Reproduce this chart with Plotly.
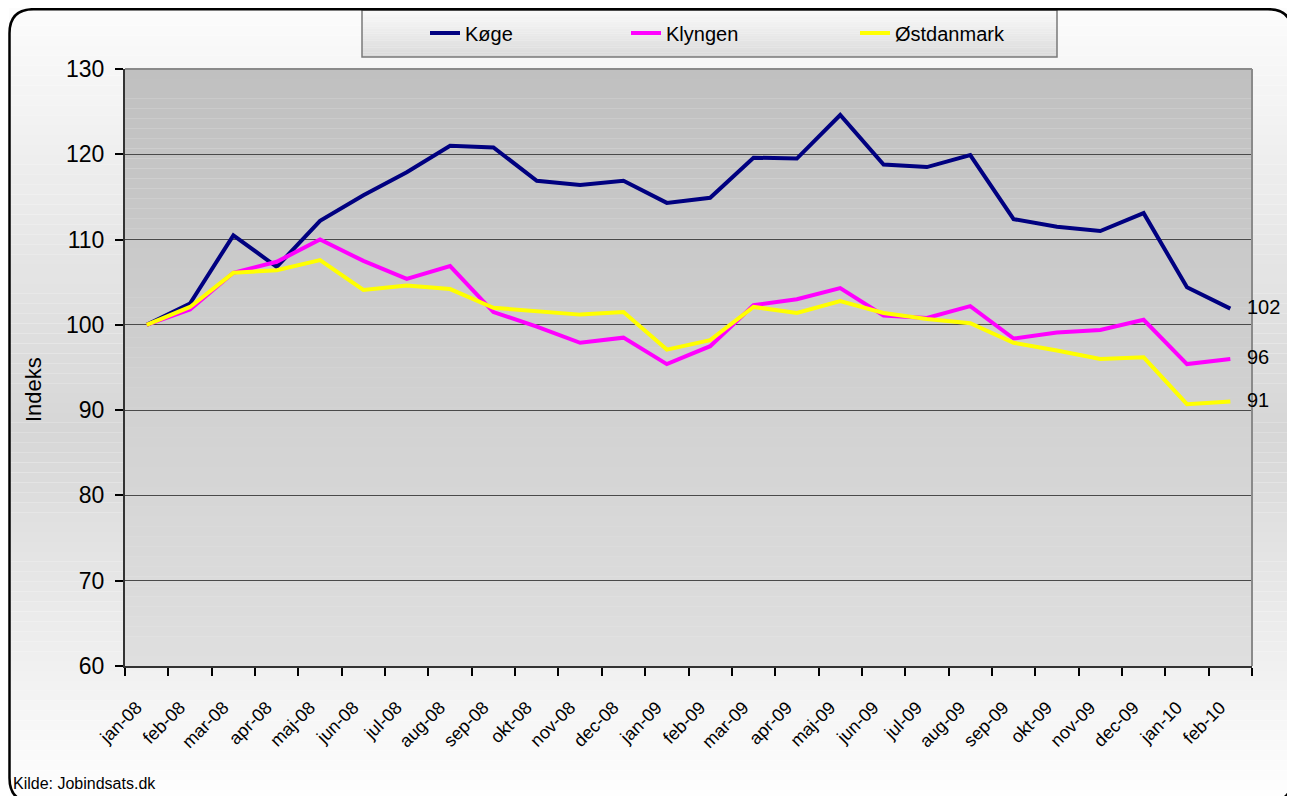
import plotly.graph_objects as go

months = ["jan-08", "feb-08", "mar-08", "apr-08", "maj-08", "jun-08", "jul-08", "aug-08",
          "sep-08", "okt-08", "nov-08", "dec-08", "jan-09", "feb-09", "mar-09", "apr-09",
          "maj-09", "jun-09", "jul-09", "aug-09", "sep-09", "okt-09", "nov-09", "dec-09",
          "jan-10", "feb-10"]

koege = [100.0, 102.5, 110.5, 106.8, 112.2, 115.2, 117.9, 121.0, 120.8, 116.9, 116.4, 116.9,
         114.3, 114.9, 119.6, 119.5, 124.6, 118.8, 118.5, 119.9, 112.4, 111.5, 111.0, 113.1,
         104.4, 101.9]
klyngen = [100.0, 101.8, 106.1, 107.4, 110.0, 107.5, 105.4, 106.9, 101.5, 99.8, 97.9, 98.5,
           95.4, 97.5, 102.3, 103.0, 104.3, 101.1, 100.8, 102.2, 98.4, 99.1, 99.4, 100.6,
           95.4, 96.0]
oest = [100.0, 102.1, 106.1, 106.4, 107.6, 104.1, 104.6, 104.2, 102.0, 101.6, 101.2, 101.5,
        97.1, 98.2, 102.1, 101.4, 102.8, 101.4, 100.7, 100.2, 97.9, 97.0, 96.0, 96.2,
        90.7, 91.0]
end_labels = ["102", "96", "91"]

series_names = ["Køge", "Klyngen", "Østdanmark"]
series_vals = [koege, klyngen, oest]
series_colors = ["#000080", "#FF00FF", "#FFFF00"]

# page is 1295x796; the html body has an 8px margin, so the figure starts at (8, 8)
PAGE_W, PAGE_H = 1295, 796
OFF = 8
W, H = PAGE_W - OFF, PAGE_H - OFF
# plot area in page pixels
PL, PR, PT, PB = 125, 1252, 69, 666
PW, PH = PR - PL, PB - PT


def px(x):
    return (x - PL) / PW


def py(y):
    return (PB - y) / PH


def hexgray(v):
    v = max(0, min(255, int(round(v))))
    return "#%02x%02x%02x" % (v, v, v)


shapes = []

# figure background gradient (light at top and bottom, grey in middle)
nb = 80
y0, y1, ym = 6, 800, 430
for i in range(nb):
    a = y0 + (y1 - y0) * i / nb
    b = y0 + (y1 - y0) * (i + 1) / nb
    c = (a + b) / 2
    if c < ym:
        g = 252 - (252 - 214) * (c - y0) / (ym - y0)
    else:
        g = 214 + (255 - 214) * (c - ym) / (y1 - ym)
    shapes.append(dict(type="rect", xref="paper", yref="paper", layer="below",
                       x0=px(9), x1=px(1292), y0=py(b), y1=py(a),
                       fillcolor=hexgray(g), line=dict(width=0)))

# plot area gradient
nb = 60
for i in range(nb):
    a = PT + PH * i / nb
    b = PT + PH * (i + 1) / nb
    c = (a + b) / 2
    g = 192 + (223 - 192) * (c - PT) / PH
    shapes.append(dict(type="rect", xref="paper", yref="paper", layer="below",
                       x0=0, x1=1, y0=py(b), y1=py(a),
                       fillcolor=hexgray(g), line=dict(width=0)))

# legend box gradient
lx0, lx1, ly0, ly1 = 362, 1057, 10, 57
nb = 20
for i in range(nb):
    a = ly0 + (ly1 - ly0) * i / nb
    b = ly0 + (ly1 - ly0) * (i + 1) / nb
    c = (a + b) / 2
    g = 250 - (250 - 218) * (c - ly0) / (ly1 - ly0)
    shapes.append(dict(type="rect", xref="paper", yref="paper", layer="below",
                       x0=px(lx0), x1=px(lx1), y0=py(b), y1=py(a),
                       fillcolor=hexgray(g), line=dict(width=0)))
shapes.append(dict(type="rect", xref="paper", yref="paper", layer="below",
                   x0=px(lx0), x1=px(lx1), y0=py(ly1), y1=py(ly0),
                   fillcolor="rgba(0,0,0,0)", line=dict(color="#7a7a7a", width=1.5)))

# plot border top and right (grey)
shapes.append(dict(type="line", xref="paper", yref="paper", layer="above",
                   x0=0, x1=1, y0=1, y1=1, line=dict(color="#8a8a8a", width=2)))
shapes.append(dict(type="line", xref="paper", yref="paper", layer="above",
                   x0=1, x1=1, y0=0, y1=1, line=dict(color="#8a8a8a", width=2)))

# outer rounded border
bx0, bx1, by0, by1, r = 9.5, 1292, 9.2, 802, 24
path = (f"M{px(bx0)},{py(by1 - r)} L{px(bx0)},{py(by0 + r)} "
        f"Q{px(bx0)},{py(by0)} {px(bx0 + r)},{py(by0)} "
        f"L{px(bx1 - r)},{py(by0)} Q{px(bx1)},{py(by0)} {px(bx1)},{py(by0 + r)} "
        f"L{px(bx1)},{py(by1 - r)} Q{px(bx1)},{py(by1)} {px(bx1 - r)},{py(by1)} "
        f"L{px(bx0 + r)},{py(by1)} Q{px(bx0)},{py(by1)} {px(bx0)},{py(by1 - r)} Z")
shapes.append(dict(type="path", xref="paper", yref="paper", layer="above", path=path,
                   line=dict(color="#000000", width=2.5), fillcolor="rgba(0,0,0,0)"))

fig = go.Figure()
legend_ids = ["legend", "legend2", "legend3"]
for name, vals, col, lid in zip(series_names, series_vals, series_colors, legend_ids):
    fig.add_trace(go.Scatter(x=months, y=vals, mode="lines", name=name, showlegend=True,
                             line=dict(color=col, width=4), legend=lid))

regular = "Liberation Sans, Arial"

annotations = []
for vals, lab in zip(series_vals, end_labels):
    annotations.append(dict(x=months[-1], y=vals[-1], xref="x", yref="y", text=lab,
                            showarrow=False, xanchor="left", yanchor="middle",
                            xshift=15, yshift=2,
                            font=dict(family=regular, size=20, color="#000000")))
annotations.append(dict(x=px(11), y=py(783), xref="paper", yref="paper",
                        text="Kilde: Jobindsats.dk", showarrow=False,
                        xanchor="left", yanchor="middle",
                        font=dict(family=regular, size=16, color="#000000")))
annotations.append(dict(x=px(33), y=py(390), xref="paper", yref="paper",
                        text="Indeks", showarrow=False, textangle=-90,
                        xanchor="center", yanchor="middle",
                        font=dict(family=regular, size=22, color="#000000")))

text_starts = [467, 668, 897]
leg_common = dict(orientation="h", bgcolor="rgba(0,0,0,0)", borderwidth=0,
                  xanchor="left", yanchor="middle", y=py(33),
                  font=dict(family=regular, size=20, color="#000000"))

fig.update_layout(
    width=W, height=H,
    margin=dict(l=PL - OFF, r=PAGE_W - PR, t=PT - OFF, b=PAGE_H - PB, pad=0,
                autoexpand=False),
    paper_bgcolor="#ffffff",
    plot_bgcolor="rgba(0,0,0,0)",
    showlegend=True,
    shapes=shapes,
    annotations=annotations,
    legend=dict(x=px(text_starts[0] - 42), **leg_common),
    legend2=dict(x=px(text_starts[1] - 42), **leg_common),
    legend3=dict(x=px(text_starts[2] - 42), **leg_common),
    xaxis=dict(type="category", range=[-0.5, len(months) - 0.5], tickson="boundaries",
               ticks="outside", ticklen=8, tickcolor="#000000", tickwidth=1.5,
               showgrid=False, showline=True, linecolor="#333333", linewidth=2,
               tickangle=-45, ticklabelstandoff=22, ticklabelshift=-10,
               tickfont=dict(family=regular, size=18, color="#000000")),
    yaxis=dict(range=[60, 130], dtick=10, tick0=60,
               ticks="outside", ticklen=8, tickcolor="#000000", tickwidth=1.5,
               showgrid=True, gridcolor="#4a4a4a", gridwidth=1.3,
               showline=True, linecolor="#333333", linewidth=2,
               zeroline=False, ticklabelstandoff=6,
               tickfont=dict(family=regular, size=23, color="#000000")),
)

fig.write_html("out.html")
